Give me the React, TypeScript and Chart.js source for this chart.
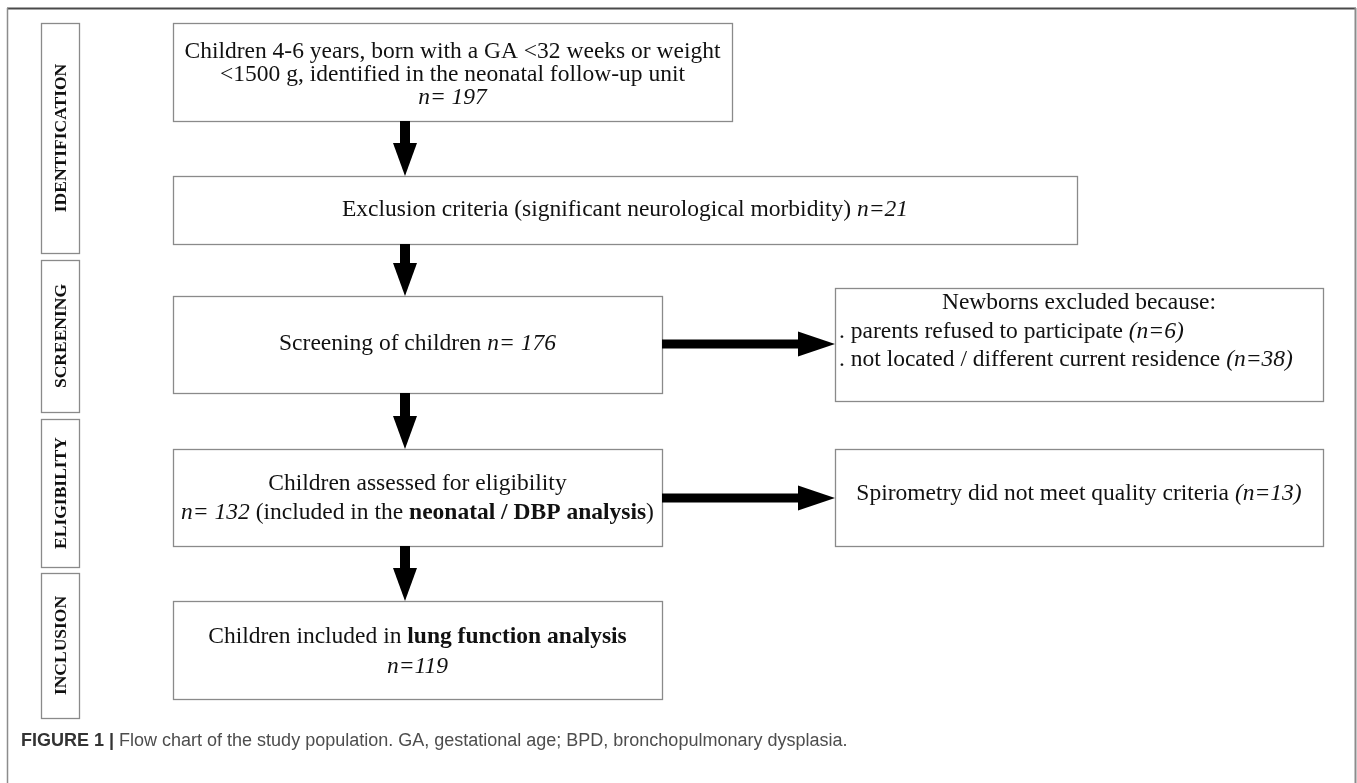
import React, { useEffect, useRef } from "react";
import { Chart, registerables } from "chart.js";
Chart.register(...registerables);

// ---------------- data ----------------
const stageNames = ["IDENTIFICATION", "SCREENING", "ELIGIBILITY", "INCLUSION"];
const nValues = [197, 21, 176, 132, 13, 119];
const lostReasons = ["parents refused to participate", "not located / different current residence"];
const lostCounts = [6, 38];
const captionLabel = "FIGURE 1 |";
const captionText = " Flow chart of the study population. GA, gestational age; BPD, bronchopulmonary dysplasia.";

// ---------------- layout (scale units) ----------------
const W = 1357;
const H = 783;
const stageX = [41, 79];
const stageY0 = [23, 260, 419, 573];
const stageY1 = [253, 412, 567, 718];
const boxX0 = [173, 173, 173, 835, 173, 835, 173];
const boxX1 = [732, 1077, 662, 1323, 662, 1323, 662];
const boxY0 = [23, 176, 296, 288, 449, 449, 601];
const boxY1 = [121, 244, 393, 401, 546, 546, 699];
const downArrowX = 405;
const downArrows = [[121, 176], [244, 296], [393, 449], [546, 601]];
const sideArrows = [[662, 835, 344], [662, 835, 498]];

type Seg = [string, "r" | "i" | "b"];
type Line = { segs: Seg[]; y: number; align: "center" | "left"; x?: number };

const boxLines: Line[][] = [
  [
    { segs: [["Children 4-6 years, born with a GA <32 weeks or weight", "r"]], y: 52, align: "center" },
    { segs: [["<1500 g, identified in the neonatal follow-up unit", "r"]], y: 75, align: "center" },
    { segs: [[`n= ${nValues[0]}`, "i"]], y: 98, align: "center" },
  ],
  [{ segs: [["Exclusion criteria (significant neurological morbidity) ", "r"], [`n=${nValues[1]}`, "i"]], y: 210, align: "center" }],
  [{ segs: [["Screening of children ", "r"], [`n= ${nValues[2]}`, "i"]], y: 344, align: "center" }],
  [
    { segs: [["Newborns excluded because:", "r"]], y: 303, align: "center" },
    { segs: [[`. ${lostReasons[0]} `, "r"], [`(n=${lostCounts[0]})`, "i"]], y: 332, align: "left", x: 839 },
    { segs: [[`. ${lostReasons[1]} `, "r"], [`(n=${lostCounts[1]})`, "i"]], y: 360, align: "left", x: 839 },
  ],
  [
    { segs: [["Children assessed for eligibility", "r"]], y: 484, align: "center" },
    { segs: [[`n= ${nValues[3]}`, "i"], [" (included in the ", "r"], ["neonatal / DBP analysis", "b"], [")", "r"]], y: 513, align: "center" },
  ],
  [{ segs: [["Spirometry did not meet quality criteria ", "r"], [`(n=${nValues[4]})`, "i"]], y: 494, align: "center" }],
  [
    { segs: [["Children included in ", "r"], ["lung function analysis", "b"]], y: 637, align: "center" },
    { segs: [[`n=${nValues[5]}`, "i"]], y: 667, align: "center" },
  ],
];

const SERIF = '"Liberation Serif", "Times New Roman", serif';
const SANS = '"Liberation Sans", Arial, sans-serif';

function fontFor(st: string, size: number, fam: string) {
  return `${st === "i" ? "italic " : ""}${st === "b" ? "bold " : ""}${size}px ${fam}`;
}

function drawRich(ctx: CanvasRenderingContext2D, segs: Seg[], x: number, y: number, align: string, size: number, fam: string, colors?: string[]) {
  let total = 0;
  const widths = segs.map(([t, st]) => {
    ctx.font = fontFor(st, size, fam);
    const w = ctx.measureText(t).width;
    total += w;
    return w;
  });
  let cx = align === "center" ? x - total / 2 : x;
  ctx.textAlign = "left";
  segs.forEach(([t, st], i) => {
    ctx.font = fontFor(st, size, fam);
    if (colors) ctx.fillStyle = colors[i];
    ctx.fillText(t, cx, y);
    cx += widths[i];
  });
}

const flowPlugin = {
  id: "flow",
  beforeDraw(chart: any) {
    const ctx = chart.ctx;
    ctx.save();
    ctx.fillStyle = "#ffffff";
    ctx.fillRect(0, 0, chart.width, chart.height);
    ctx.restore();
  },
  afterDatasetsDraw(chart: any) {
    const ctx: CanvasRenderingContext2D = chart.ctx;
    const sx = chart.scales.x;
    const sy = chart.scales.y;
    const X = (v: number) => sx.getPixelForValue(v);
    const Y = (v: number) => sy.getPixelForValue(v);
    ctx.save();

    // outer frame
    ctx.strokeStyle = "#4a4a4a";
    ctx.lineWidth = 2;
    ctx.beginPath();
    ctx.moveTo(X(7), Y(8.5));
    ctx.lineTo(X(1356), Y(8.5));
    ctx.stroke();
    ctx.strokeStyle = "#8c8c8c";
    ctx.lineWidth = 1.5;
    ctx.beginPath();
    ctx.moveTo(X(7.5), Y(8));
    ctx.lineTo(X(7.5), Y(H));
    ctx.stroke();
    ctx.lineWidth = 2;
    ctx.beginPath();
    ctx.moveTo(X(1355.5), Y(8));
    ctx.lineTo(X(1355.5), Y(H));
    ctx.stroke();

    // stage labels
    ctx.strokeStyle = "#8a8a8a";
    ctx.lineWidth = 1.3;
    stageNames.forEach((name, i) => {
      const x0 = X(stageX[0]), x1 = X(stageX[1]);
      const y0 = Y(stageY0[i]), y1 = Y(stageY1[i]);
      ctx.strokeRect(x0 + 0.5, y0 + 0.5, x1 - x0, y1 - y0);
      ctx.save();
      ctx.translate((x0 + x1) / 2 + 1, (y0 + y1) / 2);
      ctx.rotate(-Math.PI / 2);
      ctx.fillStyle = "#111";
      ctx.font = `bold 17.5px ${SERIF}`;
      ctx.textAlign = "center";
      ctx.textBaseline = "middle";
      ctx.fillText(name, 0, 0);
      ctx.restore();
    });

    // boxes
    boxLines.forEach((lines, i) => {
      const x0 = X(boxX0[i]), x1 = X(boxX1[i]);
      const y0 = Y(boxY0[i]), y1 = Y(boxY1[i]);
      ctx.strokeStyle = "#8a8a8a";
      ctx.lineWidth = 1.3;
      ctx.strokeRect(x0 + 0.5, y0 + 0.5, x1 - x0, y1 - y0);
      ctx.fillStyle = "#111";
      ctx.textBaseline = "middle";
      lines.forEach((ln) => {
        const cx = ln.align === "center" ? (x0 + x1) / 2 : X(ln.x as number);
        drawRich(ctx, ln.segs, cx, Y(ln.y), ln.align, 23.5, SERIF);
      });
    });

    // vertical arrows
    ctx.fillStyle = "#000";
    downArrows.forEach(([a, b]) => {
      const x = X(downArrowX);
      const ya = Y(a), yb = Y(b);
      const headLen = 33, headHalf = 12, shaftHalf = 5;
      ctx.fillRect(x - shaftHalf, ya, shaftHalf * 2, yb - headLen - ya + 1);
      ctx.beginPath();
      ctx.moveTo(x - headHalf, yb - headLen);
      ctx.lineTo(x + headHalf, yb - headLen);
      ctx.lineTo(x, yb);
      ctx.closePath();
      ctx.fill();
    });
    // horizontal arrows
    sideArrows.forEach(([a, b, yy]) => {
      const xa = X(a), xb = X(b), y = Y(yy);
      const headLen = 37, headHalf = 12.5, shaftHalf = 4.5;
      ctx.fillRect(xa, y - shaftHalf, xb - headLen - xa + 1, shaftHalf * 2);
      ctx.beginPath();
      ctx.moveTo(xb - headLen, y - headHalf);
      ctx.lineTo(xb - headLen, y + headHalf);
      ctx.lineTo(xb, y);
      ctx.closePath();
      ctx.fill();
    });

    // caption
    ctx.textBaseline = "middle";
    drawRich(
      ctx,
      [[captionLabel, "b"], [captionText, "r"]],
      X(21),
      Y(741),
      "left",
      18,
      SANS,
      ["#333333", "#4d4d4d"]
    );
    ctx.restore();
  },
};

export default function App() {
  const ref = useRef<HTMLCanvasElement | null>(null);
  useEffect(() => {
    if (!ref.current) return;
    const centers = boxX0.map((x0, i) => ({ x: (x0 + boxX1[i]) / 2, y: (boxY0[i] + boxY1[i]) / 2 }));
    const chart = new Chart(ref.current, {
      type: "scatter",
      data: {
        datasets: [
          {
            label: "nodes",
            data: centers,
            pointRadius: 0,
            pointHoverRadius: 0,
          },
        ],
      },
      options: {
        animation: false,
        responsive: false,
        maintainAspectRatio: false,
        events: [],
        layout: { padding: 0 },
        plugins: { legend: { display: false }, tooltip: { enabled: false } },
        scales: {
          x: { type: "linear", min: 0, max: W, display: false },
          y: { type: "linear", min: 0, max: H, reverse: true, display: false },
        },
      },
      plugins: [flowPlugin],
    } as any);
    return () => chart.destroy();
  }, []);
  return (
    <div style={{ position: "fixed", left: 0, top: 0, width: W, height: H, background: "#fff" }}>
      <canvas ref={ref} width={W} height={H} style={{ display: "block", width: W, height: H }} />
    </div>
  );
}
